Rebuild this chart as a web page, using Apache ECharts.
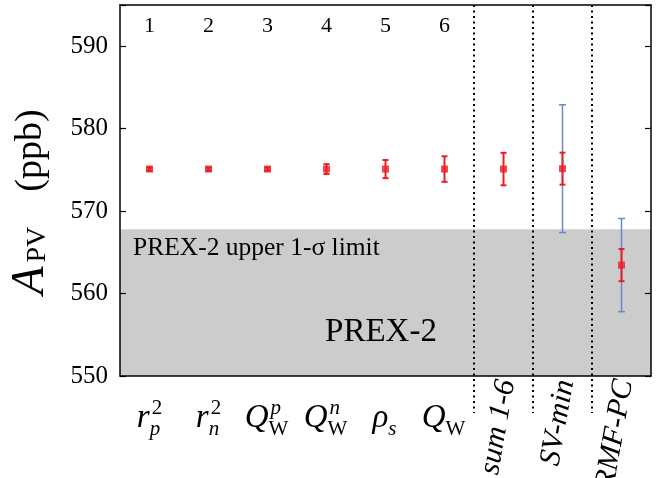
<!DOCTYPE html>
<html>
<head>
<meta charset="utf-8">
<script src="https://cdn.jsdelivr.net/npm/echarts@6/dist/echarts.min.js"></script>
<style>
html, body { margin: 0; padding: 0; background: #fff; }
#chart { width: 662px; height: 478px; }
</style>
</head>
<body>
<div id="chart"></div>
<script>
// data
var categories = ['r2p', 'r2n', 'QpW', 'QnW', 'rhos', 'QW', 'sum 1-6', 'SV-min', 'RMF-PC']
var topLabels = ['1', '2', '3', '4', '5', '6', '', '', '']
var baseSym = ['r', 'r', 'Q', 'Q', 'ρ', 'Q']
var supSym = ['2', '2', 'p', 'n', '', '']
var subSym = ['p', 'n', 'W', 'W', 's', 'W']
var rotLabels = ['sum 1-6', 'SV-min', 'RMF-PC']
var central = [575.1, 575.1, 575.1, 575.1, 575.1, 575.1, 575.1, 575.15, 563.45]
var errRed = [0.2, 0.2, 0.2, 0.6, 1.1, 1.55, 1.97, 1.94, 1.95]
var errBlue = [0, 0, 0, 0, 0, 0, 0, 7.75, 5.65]
var yTicks = [550, 560, 570, 580, 590]
var prexUpper = 567.8
var separatorAfter = [5, 6, 7]

var SERIF = 'Liberation Serif'
var RED = '#ee1c24'
var BLUE = '#6c87c6'

var chart = echarts.init(document.getElementById('chart'))

function errorBarItem (color, width, cap) {
  return function (params, api) {
    var i = api.value(0)
    var c = api.value(1)
    var e = api.value(2)
    if (!e) return
    var hi = api.coord([i, c + e])
    var lo = api.coord([i, c - e])
    var style = { stroke: color, lineWidth: width }
    return {
      type: 'group',
      children: [
        { type: 'line', shape: { x1: hi[0], y1: hi[1], x2: lo[0], y2: lo[1] }, style: style },
        { type: 'line', shape: { x1: hi[0] - cap, y1: hi[1], x2: hi[0] + cap, y2: hi[1] }, style: style },
        { type: 'line', shape: { x1: lo[0] - cap, y1: lo[1], x2: lo[0] + cap, y2: lo[1] }, style: style }
      ]
    }
  }
}

var xAxisBase = {
  type: 'category',
  data: categories,
  boundaryGap: true,
  z: 10,
  axisLine: { lineStyle: { color: '#000', width: 1.5 } },
  axisTick: {
    inside: true,
    length: 6,
    alignWithLabel: true,
    interval: function (index) { return index < 6 },
    lineStyle: { color: '#000', width: 1.2 }
  },
  splitLine: { show: false }
}

var yAxisBase = {
  type: 'value',
  min: 550,
  max: 595,
  interval: 10,
  z: 10,
  axisLine: { show: true, lineStyle: { color: '#000', width: 1.5 } },
  axisTick: { show: true, inside: true, length: 6, lineStyle: { color: '#000', width: 1.2 } },
  splitLine: { show: false }
}

var option = {
  animation: false,
  grid: { left: 120, right: 11, top: 5, bottom: 102, show: false },
  xAxis: [
    Object.assign({}, xAxisBase, {
      position: 'bottom',
      axisLabel: { show: false }
    }),
    Object.assign({}, xAxisBase, {
      position: 'top',
      axisLabel: {
        inside: true,
        margin: 10,
        color: '#000',
        fontFamily: SERIF,
        fontSize: 22,
        formatter: function (v, i) { return topLabels[i] }
      }
    })
  ],
  yAxis: [
    Object.assign({}, yAxisBase, {
      position: 'left',
      axisLabel: {
        margin: 12,
        color: '#000',
        fontFamily: SERIF,
        fontSize: 25,
        formatter: function (v) { return yTicks.indexOf(v) >= 0 ? String(v) : '' }
      }
    }),
    Object.assign({}, yAxisBase, {
      position: 'right',
      axisLabel: { show: false }
    })
  ],
  series: [
    {
      name: 'prex',
      type: 'scatter',
      data: [],
      z: 1,
      silent: true,
      markArea: {
        silent: true,
        itemStyle: { color: '#cccccc' },
        data: [[{ yAxis: 550 }, { yAxis: prexUpper }]]
      }
    },
    {
      name: 'blue',
      type: 'custom',
      z: 3,
      renderItem: errorBarItem(BLUE, 1.5, 3.5),
      encode: { x: 0, y: 1 },
      data: categories.map(function (c, i) { return [i, central[i], errBlue[i]] })
    },
    {
      name: 'red',
      type: 'custom',
      z: 4,
      renderItem: errorBarItem(RED, 2, 3),
      encode: { x: 0, y: 1 },
      data: categories.map(function (c, i) { return [i, central[i], errRed[i]] })
    },
    {
      name: 'points',
      type: 'scatter',
      z: 5,
      symbol: 'rect',
      symbolSize: 7,
      itemStyle: { color: RED },
      data: categories.map(function (c, i) { return [i, central[i]] })
    },
    {
      name: 'separators',
      type: 'custom',
      z: 6,
      clip: false,
      renderItem: function (params, api) {
        var i = api.value(0)
        var top = api.coord([i, 595])
        var bot = api.coord([i, 550])
        var x = top[0] + api.size([1, 0])[0] / 2
        return {
          type: 'line',
          shape: { x1: x, y1: top[1], x2: x, y2: bot[1] + 37 },
          style: { stroke: '#000', lineWidth: 2, lineDash: [2, 3.5] }
        }
      },
      data: separatorAfter.map(function (i) { return [i, 595] })
    }
  ]
}

chart.setOption(option)

// axis labels with math sub/superscripts, placed through the axis scale
var ctx = document.createElement('canvas').getContext('2d')
function textWidth (text, font) {
  ctx.font = font
  return ctx.measureText(text).width
}
function scriptFont (ch) {
  return (/[a-z]/.test(ch) ? 'italic ' : '') + '21px "' + SERIF + '"'
}

var graphics = []
var baseFont = 'italic 33px "' + SERIF + '"'
baseSym.forEach(function (b, i) {
  var cx = chart.convertToPixel({ xAxisIndex: 0 }, i)
  var wb = textWidth(b, baseFont)
  var ws = Math.max(textWidth(supSym[i], scriptFont(supSym[i])), textWidth(subSym[i], scriptFont(subSym[i])))
  var x0 = cx - (wb + ws + 2) / 2
  graphics.push({
    type: 'text', x: x0, y: 418,
    style: { text: b, font: baseFont, fill: '#000', textAlign: 'left', textVerticalAlign: 'middle' }
  })
  if (supSym[i]) {
    graphics.push({
      type: 'text', x: x0 + wb + 2, y: 408,
      style: { text: supSym[i], font: scriptFont(supSym[i]), fill: '#000', textAlign: 'left', textVerticalAlign: 'middle' }
    })
  }
  if (subSym[i]) {
    graphics.push({
      type: 'text', x: x0 + wb, y: 429,
      style: { text: subSym[i], font: scriptFont(subSym[i]), fill: '#000', textAlign: 'left', textVerticalAlign: 'middle' }
    })
  }
})

rotLabels.forEach(function (t, k) {
  var cx = chart.convertToPixel({ xAxisIndex: 0 }, 6 + k)
  graphics.push({
    type: 'text', x: cx + 3, y: 380, rotation: 80 * Math.PI / 180,
    style: { text: t, font: 'italic 30px "' + SERIF + '"', fill: '#000', textAlign: 'right', textVerticalAlign: 'middle' }
  })
})

// y axis title
graphics.push({
  type: 'text', x: 31, y: 202, rotation: Math.PI / 2,
  style: {
    text: '{a|A}{s|PV}{p|(ppb)}',
    textAlign: 'center',
    textVerticalAlign: 'middle',
    fill: '#000',
    rich: {
      a: { fontFamily: SERIF, fontStyle: 'italic', fontSize: 46, lineHeight: 50, verticalAlign: 'middle' },
      s: { fontFamily: SERIF, fontSize: 28, lineHeight: 28, verticalAlign: 'bottom', padding: [0, 2, 4, 4] },
      p: { fontFamily: SERIF, fontSize: 38, lineHeight: 40, verticalAlign: 'middle', padding: [0, 0, 0, 33] }
    }
  }
})

graphics.push({
  type: 'text', x: 133, y: 248, z: 8,
  style: { text: 'PREX-2 upper 1-σ limit', font: '25.5px "' + SERIF + '"', fill: '#000', textAlign: 'left', textVerticalAlign: 'middle' }
})
graphics.push({
  type: 'text', x: 381, y: 332, z: 8,
  style: { text: 'PREX-2', font: '33px "' + SERIF + '"', fill: '#000', textAlign: 'center', textVerticalAlign: 'middle' }
})

chart.setOption({ graphic: graphics })

window.addEventListener('resize', function () {
  chart.resize()
})
</script>
</body>
</html>
